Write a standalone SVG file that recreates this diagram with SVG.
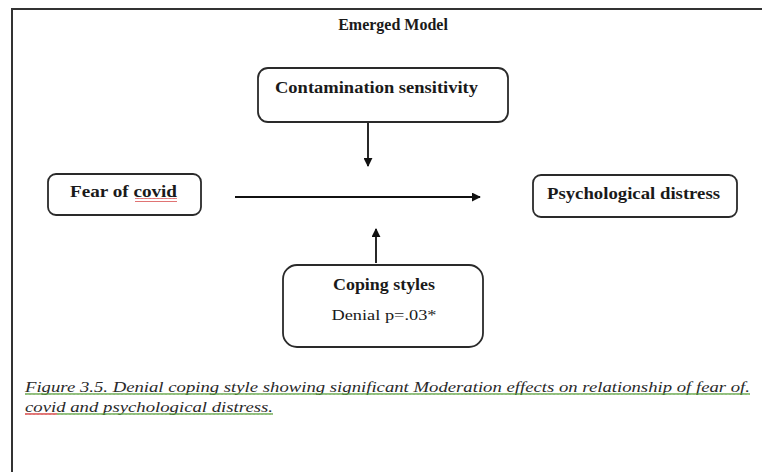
<svg xmlns="http://www.w3.org/2000/svg" width="762" height="472" viewBox="0 0 762 472">
<style>
.box{fill:#fff;stroke:#2a2a2a;stroke-width:1.8}
.lbl{font-family:"Liberation Serif","Times New Roman",serif;font-size:16px;font-weight:bold;fill:#1a1a1a}
.reg{font-family:"Liberation Serif","Times New Roman",serif;font-size:15px;fill:#1a1a1a}
.cap{font-family:"Liberation Serif","Times New Roman",serif;font-size:15px;font-style:italic;fill:#2a2a2a}
.conn{stroke:#111;stroke-width:1.8;fill:none}
</style>
<defs>
<marker id="ah" viewBox="0 0 10 10" refX="9" refY="5" markerWidth="5" markerHeight="5" orient="auto" markerUnits="strokeWidth">
<path d="M0,0 L10,5 L0,10 z" fill="#111"/>
</marker>
<pattern id="wg" width="4" height="4" patternUnits="userSpaceOnUse">
<path d="M0,3 L1,1 L2,3 L3,1 L4,3" stroke="#5a9e3c" stroke-width="0.8" fill="none"/>
</pattern>
<pattern id="wr" width="4" height="4" patternUnits="userSpaceOnUse">
<path d="M0,3 L1,1 L2,3 L3,1 L4,3" stroke="#d03030" stroke-width="0.8" fill="none"/>
</pattern>
</defs>
<rect width="762" height="472" fill="#fff"/>
<path d="M12,472 V9 H762" fill="none" stroke="#333" stroke-width="2"/>
<text x="393" y="30" text-anchor="middle" class="lbl" font-size="15">Emerged Model</text>

<g id="connectors">
<line class="conn" x1="368" y1="122" x2="368" y2="166" marker-end="url(#ah)"/>
<line class="conn" x1="235" y1="197" x2="480" y2="197" marker-end="url(#ah)"/>
<line class="conn" x1="376" y1="263" x2="376" y2="229" marker-end="url(#ah)"/>
</g>

<g id="contamination">
<rect class="box" x="258" y="68" width="250" height="54" rx="10"/>
<text x="275" y="93" class="lbl" textLength="203" lengthAdjust="spacingAndGlyphs">Contamination sensitivity</text>
</g>
<g id="fear">
<rect class="box" x="48" y="174" width="153" height="41" rx="8"/>
<text x="70" y="197" class="lbl" textLength="107" lengthAdjust="spacingAndGlyphs">Fear of covid</text>
<rect x="135" y="198" width="42" height="4" fill="url(#wr)"/>
</g>
<g id="distress">
<rect class="box" x="533" y="175" width="204" height="42" rx="8"/>
<text x="547" y="199" class="lbl" textLength="173" lengthAdjust="spacingAndGlyphs">Psychological distress</text>
</g>
<g id="coping">
<rect class="box" x="283" y="265" width="200" height="82" rx="14"/>
<text x="384" y="290" text-anchor="middle" class="lbl" font-size="15" textLength="102" lengthAdjust="spacingAndGlyphs">Coping styles</text>
<text x="384" y="320" text-anchor="middle" class="reg" textLength="105" lengthAdjust="spacingAndGlyphs">Denial p=.03*</text>
</g>

<g id="caption">
<text x="25" y="392" class="cap" textLength="725" lengthAdjust="spacingAndGlyphs">Figure 3.5. Denial coping style showing significant Moderation effects on relationship of fear of.</text>
<rect x="25" y="393" width="725" height="4" fill="url(#wg)"/>
<text x="25" y="412" class="cap" textLength="248" lengthAdjust="spacingAndGlyphs">covid and psychological distress.</text>
<rect x="25" y="413" width="32" height="4" fill="url(#wr)"/>
<rect x="57" y="413" width="216" height="4" fill="url(#wg)"/>
</g>
</svg>
